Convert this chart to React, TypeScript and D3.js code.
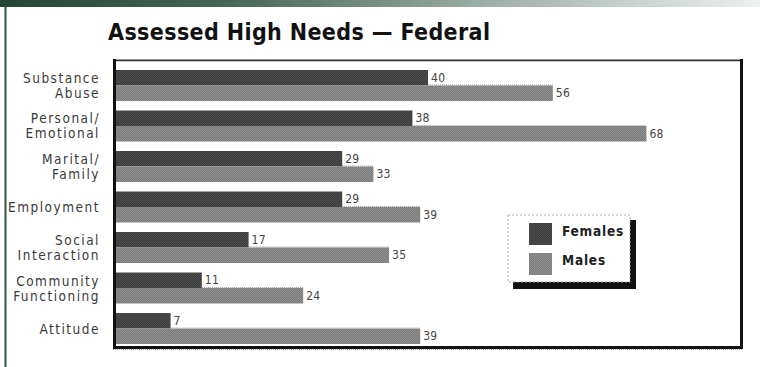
import React from "react";
import * as d3 from "d3";

const categories: string[][] = [
  ["Substance", "Abuse"],
  ["Personal/", "Emotional"],
  ["Marital/", "Family"],
  ["Employment"],
  ["Social", "Interaction"],
  ["Community", "Functioning"],
  ["Attitude"],
];
const females: number[] = [40, 38, 29, 29, 17, 11, 7];
const males: number[] = [56, 68, 33, 39, 35, 24, 39];
const seriesNames: string[] = ["Females", "Males"];
const title = "Assessed High Needs \u2014 Federal";

const W = 760;
const H = 367;
const NARROW = "'DejaVu Sans Condensed', 'Liberation Sans Narrow', 'Liberation Sans', Arial, sans-serif";

export default function App() {
  const keys = categories.map((c) => c.join(" "));
  const x = d3.scaleLinear().domain([0, 80]).range([116, 740]);
  const y = d3
    .scaleBand<string>()
    .domain(keys)
    .range([65.25, 348.75])
    .paddingInner(0.235)
    .paddingOuter(0.117);
  const bw = y.bandwidth();
  const half = bw / 2;

  return (
    <div style={{ position: "absolute", left: 0, top: 0, width: W, height: H, background: "#fff" }}>
      <svg width={W} height={H} style={{ display: "block" }}>
        <defs>
          <linearGradient id="topband" x1="0" x2="1" y1="0" y2="0">
            <stop offset="0" stopColor="#244536" />
            <stop offset="0.3" stopColor="#466656" />
            <stop offset="0.65" stopColor="#9fb0a8" />
            <stop offset="1" stopColor="#eef1ef" />
          </linearGradient>
          <pattern id="fem" width="2" height="2" patternUnits="userSpaceOnUse">
            <rect width="2" height="2" fill="#3d3d3d" />
            <rect width="1" height="1" fill="#4b4b4b" />
            <rect x="1" y="1" width="1" height="1" fill="#4b4b4b" />
          </pattern>
          <pattern id="mal" width="2" height="2" patternUnits="userSpaceOnUse">
            <rect width="2" height="2" fill="#7b7b7b" />
            <rect width="1" height="1" fill="#8f8f8f" />
            <rect x="1" y="1" width="1" height="1" fill="#8f8f8f" />
          </pattern>
        </defs>

        {/* top gradient band and left rule */}
        <rect x={0} y={0} width={W} height={7} fill="url(#topband)" />
        <rect x={4.5} y={7} width={2} height={H - 7} fill="#2f5545" />

        {/* title */}
        <text
          x={108}
          y={40}
          fontFamily={NARROW}
          fontWeight="bold"
          fontSize={23}
          fill="#111"
          textLength={382}
          lengthAdjust="spacing"
        >
          {title}
        </text>

        {/* plot frame */}
        <rect x={114} y={59} width={628} height={289} fill="#fff" />
        <line x1={114} x2={742} y1={59.5} y2={59.5} stroke="#bbb" strokeWidth={1} />
        <line x1={114} x2={742} y1={60.5} y2={60.5} stroke="#333" strokeWidth={1.5} />

        {/* bars */}
        {keys.map((k, i) => {
          const y0 = y(k)!;
          return (
            <g key={k}>
              <rect x={x(0)} y={y0} width={x(females[i]) - x(0)} height={half} fill="url(#fem)" />
              <rect x={x(0)} y={y0 + half} width={x(males[i]) - x(0)} height={half} fill="url(#mal)" />
              <line
                x1={x(females[i])}
                x2={x(males[i])}
                y1={y0 + half - 0.5}
                y2={y0 + half - 0.5}
                stroke="#9a9a9a"
                strokeWidth={1}
                strokeDasharray="1 1"
              />
              <text
                x={x(females[i]) + 3}
                y={y0 + half / 2 + 4}
                fontFamily={NARROW}
                fontSize={12}
                letterSpacing={0.3}
                fill="#444"
              >
                {females[i]}
              </text>
              <text
                x={x(males[i]) + 3}
                y={y0 + half + half / 2 + 4}
                fontFamily={NARROW}
                fontSize={12}
                letterSpacing={0.3}
                fill="#444"
              >
                {males[i]}
              </text>
              {/* category labels */}
              <text
                x={100}
                textAnchor="end"
                fontFamily={NARROW}
                fontSize={13.5}
                letterSpacing={1.5}
                fill="#3a3a3a"
              >
                {categories[i].map((line, j) => {
                  const n = categories[i].length;
                  const cy = y0 + bw / 2;
                  const base = cy + 5 + (j - (n - 1) / 2) * 15;
                  return (
                    <tspan key={j} x={100} y={base}>
                      {line}
                    </tspan>
                  );
                })}
              </text>
            </g>
          );
        })}

        {/* frame borders (left, right, bottom heavy) */}
        <rect x={113} y={59} width={3} height={290} fill="#111" />
        <rect x={740} y={59} width={3} height={290} fill="#111" />
        <rect x={113} y={346} width={630} height={3} fill="#111" />
        <line x1={113} x2={743} y1={349.5} y2={349.5} stroke="#aaa" strokeWidth={1} strokeDasharray="1 1" />

        {/* legend */}
        <rect x={513} y={220} width={123} height={69} fill="#111" />
        <rect x={508} y={215} width={122} height={67} fill="#fff" stroke="#aaa" strokeWidth={1} strokeDasharray="2 2" />
        {seriesNames.map((s, i) => (
          <g key={s}>
            <rect x={529} y={223 + i * 30} width={23} height={22} fill={i === 0 ? "url(#fem)" : "url(#mal)"} />
            <text
              x={562}
              y={236 + i * 29}
              fontFamily={NARROW}
              fontWeight="bold"
              fontSize={13.5}
              letterSpacing={0.8}
              fill="#222"
            >
              {s}
            </text>
          </g>
        ))}
      </svg>
    </div>
  );
}
